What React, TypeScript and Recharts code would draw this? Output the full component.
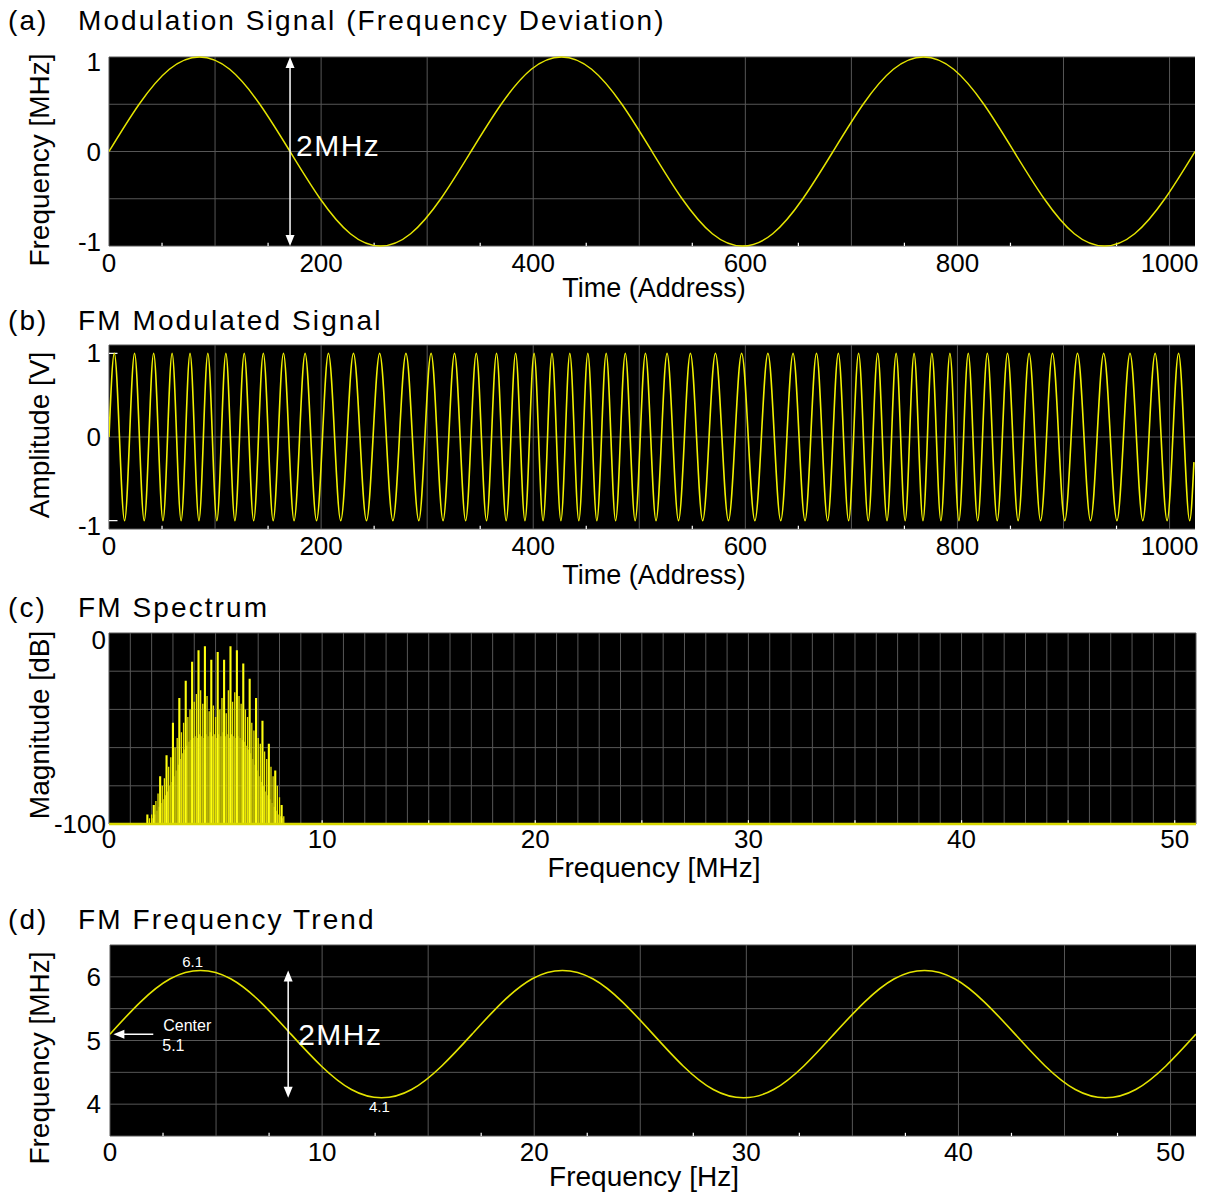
import React from 'react';
import { LineChart, Line, XAxis, YAxis, CartesianGrid, ReferenceLine, ReferenceDot } from 'recharts';

const FONT = '"Liberation Sans", Arial, Helvetica, sans-serif';
const YELLOW = '#f2f200';
const GRID = '#575757';

// ---------- (a) Modulation signal (frequency deviation, MHz) ----------
const modTime = [0, 28.4, 56.9, 85.3, 113.8, 142.2, 170.7, 199.1, 227.6, 256, 284.4, 312.9, 341.3, 369.8, 398.2, 426.7, 455.1, 483.6, 512, 540.4, 568.9, 597.3, 625.8, 654.2, 682.7, 711.1, 739.6, 768, 796.4, 824.9, 853.3, 881.8, 910.2, 938.7, 967.1, 995.6, 1024];
const modDev = [0, 0.5, 0.87, 1, 0.87, 0.5, 0, -0.5, -0.87, -1, -0.87, -0.5, 0, 0.5, 0.87, 1, 0.87, 0.5, 0, -0.5, -0.87, -1, -0.87, -0.5, 0, 0.5, 0.87, 1, 0.87, 0.5, 0, -0.5, -0.87, -1, -0.87, -0.5, 0];

// ---------- (b) FM modulated signal: extrema addresses and amplitudes ----------
const fmTime = [0, 5.0, 14.7, 24.1, 33.2, 42.1, 50.9, 59.5, 68.0, 76.4, 84.8, 93.2, 101.7, 110.2, 118.7, 127.5, 136.4, 145.5, 154.8, 164.5, 174.5, 184.9, 195.7, 206.9, 218.5, 230.5, 242.8, 255.2, 267.7, 280.0, 292.1, 303.7, 315.0, 325.8, 336.3,
  346.3, 356.0, 365.4, 374.5, 383.4, 392.2, 400.8, 409.3, 417.7, 426.1, 434.5, 443.0, 451.5, 460.0, 468.8, 477.7, 486.8, 496.1, 505.8, 515.8, 526.2, 537.0, 548.2, 559.8, 571.8, 584.1, 596.5, 609.0, 621.3, 633.4, 645.0, 656.3, 667.1, 677.6,
  687.7, 697.4, 706.8, 715.9, 724.8, 733.6, 742.2, 750.7, 759.1, 767.5, 775.9, 784.4, 792.9, 801.4, 810.2, 819.1, 828.2, 837.5, 847.2, 857.2, 867.6, 878.4, 889.6, 901.2, 913.2, 925.5, 937.9, 950.4, 962.7, 974.8, 986.4, 997.7, 1008.5, 1019.0, 1023];
const fmAmp = [0,
  1, -1, 1, -1, 1, -1, 1, -1, 1, -1, 1, -1, 1, -1, 1, -1, 1, -1, 1, -1, 1, -1, 1, -1, 1, -1, 1, -1, 1, -1, 1, -1, 1, -1,
  1, -1, 1, -1, 1, -1, 1, -1, 1, -1, 1, -1, 1, -1, 1, -1, 1, -1, 1, -1, 1, -1, 1, -1, 1, -1, 1, -1, 1, -1, 1, -1, 1, -1,
  1, -1, 1, -1, 1, -1, 1, -1, 1, -1, 1, -1, 1, -1, 1, -1, 1, -1, 1, -1, 1, -1, 1, -1, 1, -1, 1, -1, 1, -1, 1, -1, 1, -1,
  -0.3];

// ---------- (c) FM spectrum (MHz, dB) ----------
const tallFreq = [1.8, 2.1, 2.4, 2.7, 3.0, 3.3, 3.6, 3.9, 4.2, 4.5, 4.8, 5.1, 5.4, 5.7, 6.0, 6.3, 6.6, 6.9, 7.2, 7.5, 7.8, 8.1];
const tallDb = [-95, -90, -75, -64, -47, -34, -25, -15, -9, -7, -14, -10, -14, -7, -9, -16, -24, -34, -46, -58, -72, -90];
const midFreq = [1.9, 2.0, 2.2, 2.3, 2.5, 2.6, 2.8, 2.9, 3.1, 3.2, 3.4, 3.5, 3.7, 3.8, 4.0, 4.1, 4.3, 4.4, 4.6, 4.7, 4.9, 5.0, 5.2, 5.3, 5.5, 5.6, 5.8, 5.9, 6.1, 6.2, 6.4, 6.5, 6.7, 6.8, 7.0, 7.1, 7.3, 7.4, 7.6, 7.7, 7.9, 8.0, 8.2];
const midDb = [-97, -95, -88, -84, -80, -76, -70, -65, -60, -55, -52, -47, -44, -40, -36, -32, -30, -37, -33, -41, -38, -44, -40, -34, -42, -30, -36, -31, -33, -37, -40, -44, -47, -51, -55, -58, -62, -66, -70, -75, -80, -86, -96];
const floorFreq = [2.05, 2.15, 2.25, 2.35, 2.45, 2.55, 2.65, 2.75, 2.85, 2.95, 3.05, 3.15, 3.25, 3.35, 3.45, 3.55, 3.65, 3.75, 3.85, 3.95, 4.05, 4.15, 4.25, 4.35, 4.45, 4.55, 4.65, 4.75, 4.85, 4.95, 5.05, 5.15, 5.25, 5.35, 5.45, 5.55, 5.65, 5.75, 5.85, 5.95, 6.05, 6.15, 6.25, 6.35, 6.45, 6.55, 6.65, 6.75, 6.85, 6.95, 7.05, 7.15, 7.25, 7.35, 7.45, 7.55, 7.65, 7.75, 7.85, 7.95, 8.05, 8.15];
const floorDb = [-97, -95, -93, -91, -89, -87, -85, -83, -80, -78, -75, -72, -69, -66, -63, -61, -59, -57, -56, -55, -54, -55, -53, -54, -55, -53, -54, -52, -54, -53, -55, -53, -54, -52, -54, -53, -55, -53, -54, -55, -54, -55, -56, -57, -59, -61, -63, -66, -69, -72, -75, -78, -80, -83, -85, -87, -89, -91, -93, -95, -96, -97];

// ---------- (d) FM frequency trend ----------
const trendTime = [0, 1.42, 2.84, 4.27, 5.69, 7.11, 8.53, 9.96, 11.38, 12.8, 14.22, 15.64, 17.07, 18.49, 19.91, 21.33, 22.76, 24.18, 25.6, 27.02, 28.44, 29.87, 31.29, 32.71, 34.13, 35.56, 36.98, 38.4, 39.82, 41.24, 42.67, 44.09, 45.51, 46.93, 48.36, 49.78, 51.2];
const trendFreq = [5.1, 5.6, 5.97, 6.1, 5.97, 5.6, 5.1, 4.6, 4.23, 4.1, 4.23, 4.6, 5.1, 5.6, 5.97, 6.1, 5.97, 5.6, 5.1, 4.6, 4.23, 4.1, 4.23, 4.6, 5.1, 5.6, 5.97, 6.1, 5.97, 5.6, 5.1, 4.6, 4.23, 4.1, 4.23, 4.6, 5.1];

// ---------- ticks & grids ----------
const addrTicks = [0, 200, 400, 600, 800, 1000];
const addrGrid = [0, 100, 200, 300, 400, 500, 600, 700, 800, 900, 1000];
const addrMinor = [50, 150, 250, 350, 450, 550, 650, 750, 850, 950];
const aGridY = [-1, -0.5, 0, 0.5, 1];
const unitTicks = [-1, 0, 1];
const bGridY = [-1.1, 0, 1.1];
const mhzTicks = [0, 10, 20, 30, 40, 50];
const cGridX = [0, 1, 2, 3, 4, 5, 6, 7, 8, 9, 10, 11, 12, 13, 14, 15, 16, 17, 18, 19, 20, 21, 22, 23, 24, 25, 26, 27, 28, 29, 30, 31, 32, 33, 34, 35, 36, 37, 38, 39, 40, 41, 42, 43, 44, 45, 46, 47, 48, 49, 50, 51];
const cGridY = [-100, -80, -60, -40, -20, 0];
const cMinor = [5, 10, 15, 20, 25, 30, 35, 40, 45, 50];
const dbTicks = [-100, 0];
const dGridX = [0, 5, 10, 15, 20, 25, 30, 35, 40, 45, 50];
const dMinor = [2.5, 7.5, 12.5, 17.5, 22.5, 27.5, 32.5, 37.5, 42.5, 47.5];
const dGridY = [3.5, 4, 4.5, 5, 5.5, 6, 6.5];
const freqTicks = [4, 5, 6];

const modData = modTime.map((t, i) => ({ t, v: modDev[i] }));
const fmData = fmTime.map((t, i) => ({ t, v: fmAmp[i] }));
const trendData = trendTime.map((t, i) => ({ t, v: trendFreq[i] }));
function buildSticks(freqs: number[], dbs: number[]) {
  const rows: { f: number; db: number }[] = [];
  freqs.forEach((f, i) => {
    rows.push({ f, db: -100 }, { f, db: dbs[i] }, { f, db: -100 });
  });
  return rows;
}
const tallSticks = buildSticks(tallFreq, tallDb);
const midSticks = buildSticks(midFreq, midDb);
const floorSticks = buildSticks(floorFreq, floorDb);

const tickStyle = { fill: '#000', fontSize: 26, fontFamily: FONT };

function YTick(props: any) {
  const { x, y, payload, nudge } = props;
  const dy = (nudge && nudge[String(payload.value)]) || 0;
  return (
    <text x={x} y={y + dy} textAnchor="end" dominantBaseline="central" fill="#000" fontSize={26} fontFamily={FONT}>
      {payload.value}
    </text>
  );
}

const vArrow = (label: string, dx: number, dy: number) => (p: any) => {
  const x = p.x1;
  const top = Math.min(p.y1, p.y2);
  const bot = Math.max(p.y1, p.y2);
  return (
    <g>
      <line x1={x} y1={top + 8} x2={x} y2={bot - 8} stroke="#fff" strokeWidth={1.5} />
      <polygon points={`${x},${top} ${x - 4.5},${top + 11} ${x + 4.5},${top + 11}`} fill="#fff" />
      <polygon points={`${x},${bot} ${x - 4.5},${bot - 11} ${x + 4.5},${bot - 11}`} fill="#fff" />
      <text x={x + dx} y={(top + bot) / 2 + dy} fill="#fff" fontSize={30} letterSpacing={1.5} fontFamily={FONT}>{label}</text>
    </g>
  );
};

const leftArrow = (p: any) => {
  const xl = Math.min(p.x1, p.x2);
  const xr = Math.max(p.x1, p.x2);
  const y = p.y1;
  return (
    <g>
      <line x1={xl + 8} y1={y} x2={xr} y2={y} stroke="#fff" strokeWidth={1.5} />
      <polygon points={`${xl},${y} ${xl + 11},${y - 4.5} ${xl + 11},${y + 4.5}`} fill="#fff" />
      <text x={xr + 10} y={y - 3} fill="#fff" fontSize={16} fontFamily={FONT}>Center</text>
      <text x={xr + 9} y={y + 17} fill="#fff" fontSize={16} fontFamily={FONT}>5.1</text>
    </g>
  );
};

const minorTicks = (vals: number[], yMin: number, h: number) =>
  vals.map((v) => (
    <ReferenceLine key={'m' + v} segment={[{ x: v, y: yMin }, { x: v, y: yMin + h }]} stroke="#ffffff" strokeWidth={1.2} ifOverflow="visible" />
  ));

const W = 1205;

export default function App() {
  return (
    <div style={{ position: 'absolute', left: 0, top: 0, width: W, height: 1196, background: '#fff' }}>
      {/* (a) */}
      <div style={{ position: 'absolute', left: 0, top: 40 }}>
        <LineChart width={W} height={240} margin={{ top: 17, right: 10, bottom: 4, left: 0 }}>
          <CartesianGrid fill="#000" stroke={GRID} horizontalValues={aGridY} verticalValues={addrGrid} />
          <XAxis type="number" dataKey="t" domain={[0, 1024]} ticks={addrTicks} interval={0} allowDataOverflow height={30}
            axisLine={false} tickLine={false} tickSize={0} tickMargin={8} tick={tickStyle} />
          <YAxis type="number" domain={[-1, 1]} ticks={unitTicks} interval={0} width={109}
            axisLine={false} tickLine={false} tickSize={0} tickMargin={8} tick={<YTick nudge={{ '1': 5, '-1': -4 }} />} />
          {minorTicks(addrMinor, -1, 0.035)}
          <Line data={modData} dataKey="v" type="natural" stroke="#e4e400" strokeWidth={1.5} dot={false} isAnimationActive={false} />
          <ReferenceLine segment={[{ x: 170.7, y: -1 }, { x: 170.7, y: 1 }]} ifOverflow="visible" shape={vArrow('2MHz', 6, 4)} />
        </LineChart>
      </div>

      {/* (b) */}
      <div style={{ position: 'absolute', left: 0, top: 330 }}>
        <LineChart width={W} height={233} margin={{ top: 15, right: 10, bottom: 4, left: 0 }}>
          <CartesianGrid fill="#000" stroke={GRID} horizontalValues={bGridY} verticalValues={addrGrid} />
          <XAxis type="number" dataKey="t" domain={[0, 1024]} ticks={addrTicks} interval={0} allowDataOverflow height={30}
            axisLine={false} tickLine={false} tickSize={0} tickMargin={8} tick={tickStyle} />
          <YAxis type="number" domain={[-1.1, 1.1]} ticks={unitTicks} interval={0} width={109}
            axisLine={false} tickLine={false} tickSize={0} tickMargin={8} tick={<YTick nudge={{ '-1': 5 }} />} />
          {minorTicks(addrMinor, -1.1, 0.04)}
          <ReferenceLine segment={[{ x: 0, y: 1 }, { x: 8, y: 1 }]} stroke="#fff" strokeWidth={1.2} ifOverflow="visible" />
          <ReferenceLine segment={[{ x: 0, y: -1 }, { x: 8, y: -1 }]} stroke="#fff" strokeWidth={1.2} ifOverflow="visible" />
          <Line data={fmData} dataKey="v" type="monotone" stroke={YELLOW} strokeWidth={1.6} dot={false} isAnimationActive={false} />
        </LineChart>
      </div>

      {/* (c) */}
      <div style={{ position: 'absolute', left: 0, top: 615 }}>
        <LineChart width={W} height={243} margin={{ top: 18, right: 9, bottom: 4, left: 0 }}>
          <CartesianGrid fill="#000" stroke={GRID} horizontalValues={cGridY} verticalValues={cGridX} />
          <XAxis type="number" dataKey="f" domain={[0, 51]} ticks={mhzTicks} interval={0} allowDataOverflow height={30}
            axisLine={false} tickLine={false} tickSize={0} tickMargin={6} tick={tickStyle} />
          <YAxis type="number" domain={[-100, 0]} ticks={dbTicks} interval={0} width={109}
            axisLine={false} tickLine={false} tickSize={0} tickMargin={3} tick={<YTick nudge={{ '0': 7 }} />} />
          {minorTicks(cMinor, -100, 2)}
          <Line data={floorSticks} dataKey="db" type="linear" stroke="#a09c1a" strokeWidth={1.1} strokeLinejoin="bevel" dot={false} isAnimationActive={false} />
          <Line data={midSticks} dataKey="db" type="linear" stroke="#e8e400" strokeWidth={1.3} strokeLinejoin="bevel" dot={false} isAnimationActive={false} />
          <Line data={tallSticks} dataKey="db" type="linear" stroke="#ffff10" strokeWidth={2.1} strokeLinejoin="bevel" dot={false} isAnimationActive={false} />
          <ReferenceLine y={-100} stroke="#d8d800" strokeWidth={2.5} />
        </LineChart>
      </div>

      {/* (d) */}
      <div style={{ position: 'absolute', left: 0, top: 930 }}>
        <LineChart width={W} height={240} margin={{ top: 15, right: 9, bottom: 4, left: 0 }}>
          <CartesianGrid fill="#000" stroke={GRID} horizontalValues={dGridY} verticalValues={dGridX} />
          <XAxis type="number" dataKey="t" domain={[0, 51.2]} ticks={mhzTicks} interval={0} allowDataOverflow height={30}
            axisLine={false} tickLine={false} tickSize={0} tickMargin={7} tick={tickStyle} />
          <YAxis type="number" domain={[3.5, 6.5]} ticks={freqTicks} interval={0} width={110}
            axisLine={false} tickLine={false} tickSize={0} tickMargin={9} tick={<YTick />} />
          {minorTicks(dMinor, 3.5, 0.05)}
          <Line data={trendData} dataKey="v" type="natural" stroke="#e4e400" strokeWidth={1.6} dot={false} isAnimationActive={false} />
          <ReferenceLine segment={[{ x: 8.4, y: 4.1 }, { x: 8.4, y: 6.1 }]} ifOverflow="visible" shape={vArrow('2MHz', 10, 11)} />
          <ReferenceLine segment={[{ x: 0.16, y: 5.1 }, { x: 2.04, y: 5.1 }]} ifOverflow="visible" shape={leftArrow} />
          <ReferenceDot x={3.9} y={6.1} r={0} fill="none" stroke="none" ifOverflow="visible"
            label={{ value: '6.1', position: 'top', offset: 3, fill: '#fff', fontSize: 15, fontFamily: FONT }} />
          <ReferenceDot x={12.7} y={4.1} r={0} fill="none" stroke="none" ifOverflow="visible"
            label={{ value: '4.1', position: 'bottom', offset: 4, fill: '#fff', fontSize: 15, fontFamily: FONT }} />
        </LineChart>
      </div>

      {/* titles and axis titles */}
      <svg width={W} height={1196} style={{ position: 'absolute', left: 0, top: 0, pointerEvents: 'none' }} fontFamily={FONT} fill="#000">
        <g fontSize={28} letterSpacing={2.1}>
          <text x={8} y={30}>(a)</text>
          <text x={78} y={30}>Modulation Signal (Frequency Deviation)</text>
          <text x={8} y={330}>(b)</text>
          <text x={78} y={330}>FM Modulated Signal</text>
          <text x={8} y={617}>(c)</text>
          <text x={78} y={617}>FM Spectrum</text>
          <text x={8} y={929}>(d)</text>
          <text x={78} y={929}>FM Frequency Trend</text>
        </g>
        <g fontSize={27} textAnchor="middle">
          <text x={654} y={297}>Time (Address)</text>
          <text x={654} y={584}>Time (Address)</text>
        </g>
        <g fontSize={28} textAnchor="middle">
          <text x={654} y={877}>Frequency [MHz]</text>
          <text x={644} y={1186}>Frequency [Hz]</text>
          <text transform="translate(49,160) rotate(-90)">Frequency [MHz]</text>
          <text transform="translate(49,435) rotate(-90)">Amplitude [V]</text>
          <text transform="translate(49,725) rotate(-90)">Magnitude [dB]</text>
          <text transform="translate(49,1058) rotate(-90)">Frequency [MHz]</text>
        </g>
      </svg>
    </div>
  );
}
